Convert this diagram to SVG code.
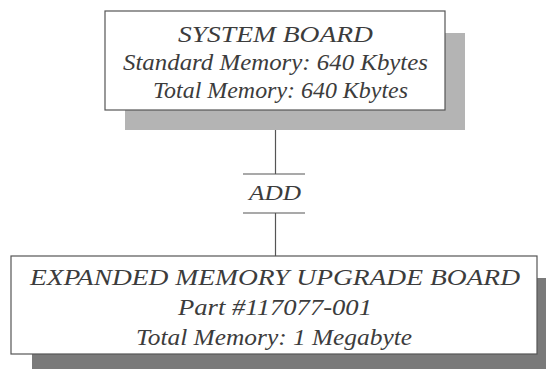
<svg xmlns="http://www.w3.org/2000/svg" width="546" height="369" viewBox="0 0 546 369">
<style>
.box{fill:#fff;stroke:#555;stroke-width:1.2}
.t{font-family:"Liberation Serif",serif;font-style:italic;fill:#3c3c3c;text-anchor:middle}
.ln{stroke:#555;stroke-width:1.2;fill:none}
</style>
<rect width="546" height="369" fill="#fff"/>
<g id="connectors">
<line class="ln" x1="275.5" y1="110" x2="275.5" y2="174"/>
<line class="ln" x1="243" y1="174" x2="305" y2="174"/>
<line class="ln" x1="243" y1="213" x2="305" y2="213"/>
<line class="ln" x1="275.5" y1="213" x2="275.5" y2="256"/>
<text class="t" x="275" y="200" font-size="22" textLength="52" lengthAdjust="spacingAndGlyphs">ADD</text>
</g>
<g id="system-board">
<rect x="125" y="33" width="340" height="97" fill="#b4b4b4"/>
<rect class="box" x="105" y="11" width="340" height="99"/>
<text class="t" x="275.5" y="42" font-size="24" textLength="195" lengthAdjust="spacingAndGlyphs">SYSTEM BOARD</text>
<text class="t" x="275.5" y="70" font-size="24" textLength="305" lengthAdjust="spacingAndGlyphs">Standard Memory: 640 Kbytes</text>
<text class="t" x="280.5" y="98" font-size="24" textLength="255" lengthAdjust="spacingAndGlyphs">Total Memory: 640 Kbytes</text>
</g>
<g id="upgrade-board">
<rect x="32" y="278" width="514" height="91" fill="#7a7a7a"/>
<rect class="box" x="11" y="256" width="526" height="98"/>
<text class="t" x="275" y="285" font-size="24" textLength="490" lengthAdjust="spacingAndGlyphs">EXPANDED MEMORY UPGRADE BOARD</text>
<text class="t" x="275" y="315" font-size="24" textLength="194" lengthAdjust="spacingAndGlyphs">Part #117077-001</text>
<text class="t" x="274" y="345" font-size="24" textLength="276" lengthAdjust="spacingAndGlyphs">Total Memory: 1 Megabyte</text>
</g>
</svg>
